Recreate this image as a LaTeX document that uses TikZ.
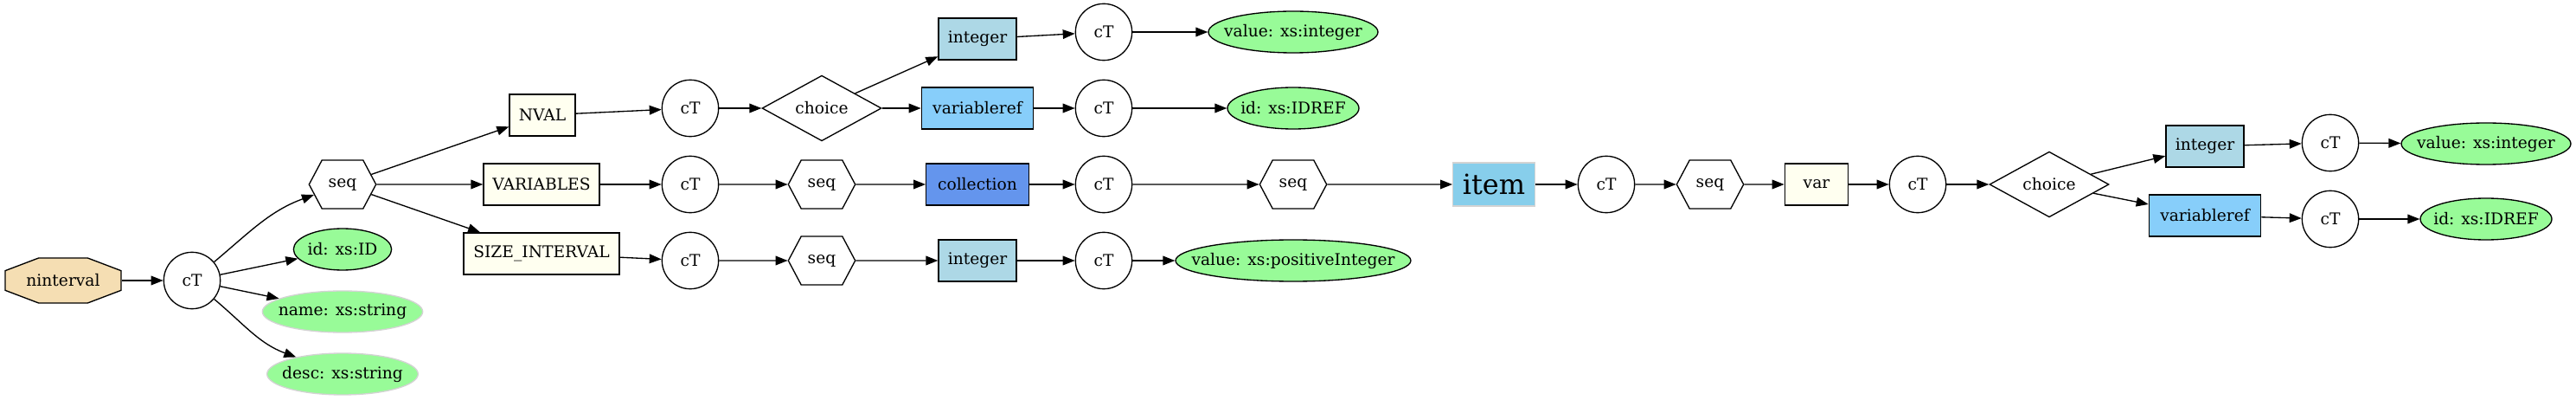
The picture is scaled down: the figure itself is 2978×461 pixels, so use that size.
\documentclass[tikz,border=0pt]{standalone}
\usepackage{fontspec}
\setmainfont{DejaVu Serif}
\usepackage{tikz}
\usetikzlibrary{arrows.meta, shapes.geometric, shapes.symbols}

\definecolor{wheat}{HTML}{F5DEB3}
\definecolor{ivory}{HTML}{FFFFF0}
\definecolor{lightblue}{HTML}{ADD8E6}
\definecolor{lightskyblue}{HTML}{87CEFA}
\definecolor{cornflowerblue}{HTML}{6495ED}
\definecolor{skyblue}{HTML}{87CEEB}
\definecolor{palegreen}{HTML}{98FB98}
\definecolor{lightgray}{HTML}{D3D3D3}

% text that does not widen its node
\newcommand{\zerowd}[1]{\makebox[0pt]{#1}}

\tikzset{
    every node/.style={font=\fontsize{14}{16}\selectfont, inner sep=0pt},
    edge/.style={-{Triangle[length=10.5pt, width=8pt]}},
    % octagon drawn inside a plain rectangle node
    rootnode/.style={rectangle, fill=white, minimum width=101.5pt, minimum height=40pt,
        path picture={
            \draw[fill=wheat, line width=1pt]
                ([xshift=29.5pt, yshift=-0.5pt]path picture bounding box.north west)
             -- ([xshift=-29.5pt, yshift=-0.5pt]path picture bounding box.north east)
             -- ([xshift=-0.5pt, yshift=-11.5pt]path picture bounding box.north east)
             -- ([xshift=-0.5pt, yshift=11.5pt]path picture bounding box.south east)
             -- ([xshift=-29.5pt, yshift=0.5pt]path picture bounding box.south east)
             -- ([xshift=29.5pt, yshift=0.5pt]path picture bounding box.south west)
             -- ([xshift=0.5pt, yshift=11.5pt]path picture bounding box.south west)
             -- ([xshift=0.5pt, yshift=-11.5pt]path picture bounding box.north west)
             -- cycle;
        }},
    ctnode/.style={circle, draw, fill=white, minimum size=49pt},
    seqnode/.style={signal, signal to=west and east, signal pointer angle=124, draw, fill=white, minimum width=58pt, minimum height=42pt},
    choicenode/.style={diamond, draw, fill=white, minimum width=103.5pt, minimum height=49.5pt},
    elembox/.style={rectangle, draw, minimum height=36pt},
    attr/.style={ellipse, draw, fill=palegreen, minimum height=36pt},
    optattr/.style={attr, draw=lightgray},
}

\begin{document}
\begin{tikzpicture}[x=0.75pt, y=0.75pt, line width=1pt]
    \useasboundingbox (0,0) rectangle (2978,461);

    % root and its attributes
    \node[rootnode] (ninterval) at (73,137) {ninterval};
    \node[ctnode] (ct) at (222,137) {cT};
    \node[seqnode] (seq) at (396,248) {seq};
    \node[attr, minimum width=85pt] (id) at (396,173) {\zerowd{id: xs:ID}};
    \node[optattr, minimum width=139pt] (name) at (396,101) {\zerowd{name: xs:string}};
    \node[optattr, minimum width=131pt] (desc) at (396,29) {\zerowd{desc: xs:string}};

    % children of the sequence
    \node[elembox, fill=ivory, minimum width=57pt] (nval) at (627,328) {NVAL};
    \node[elembox, fill=ivory, minimum width=100.5pt] (variables) at (626,248) {VARIABLES};
    \node[elembox, fill=ivory, minimum width=135pt] (sizeinterval) at (626,168) {SIZE\_INTERVAL};

    \node[ctnode] (nvalct) at (798,336) {cT};
    \node[ctnode] (variablesct) at (798,248) {cT};
    \node[ctnode] (sizect) at (798,160) {cT};

    \node[choicenode] (nvalchoice) at (950,336) {choice};
    \node[seqnode] (variablesseq) at (950,248) {seq};
    \node[seqnode] (sizeseq) at (950,160) {seq};

    \node[elembox, fill=lightblue, minimum width=67.5pt] (nvalint) at (1130,416) {integer};
    \node[elembox, fill=lightskyblue, minimum width=97pt] (nvalref) at (1130,336) {variableref};
    \node[elembox, fill=cornflowerblue, minimum width=89pt] (collection) at (1130,248) {collection};
    \node[elembox, fill=lightblue, minimum width=67.5pt] (sizeint) at (1130,160) {integer};

    \node[ctnode] (nvalintct) at (1276,424) {cT};
    \node[ctnode] (nvalrefct) at (1276,336) {cT};
    \node[ctnode] (collectionct) at (1276,248) {cT};
    \node[ctnode] (sizeintct) at (1276,160) {cT};

    \node[attr, minimum width=147pt] (nvalvalue) at (1495,424) {\zerowd{value: xs:integer}};
    \node[attr, minimum width=114pt] (nvalid) at (1495,336) {\zerowd{id: xs:IDREF}};
    \node[seqnode] (collectionseq) at (1495,248) {seq};
    \node[attr, minimum width=204pt] (sizevalue) at (1495,160) {\zerowd{value: xs:positiveInteger}};

    % item branch
    \node[elembox, fill=skyblue, draw=lightgray, minimum width=71pt, minimum height=37.5pt, font=\fontsize{24}{28}\selectfont] (item) at (1727,248) {item};
    \node[ctnode] (itemct) at (1857,248) {cT};
    \node[seqnode] (itemseq) at (1977,248) {seq};
    \node[elembox, fill=ivory, minimum width=55pt] (var) at (2100,248) {var};
    \node[ctnode] (varct) at (2217,248) {cT};
    \node[choicenode] (varchoice) at (2369,248) {choice};
    \node[elembox, fill=lightblue, minimum width=67.5pt] (varint) at (2549,292) {integer};
    \node[elembox, fill=lightskyblue, minimum width=97pt] (varref) at (2549,212) {variableref};
    \node[ctnode] (varintct) at (2694,296) {cT};
    \node[ctnode] (varrefct) at (2694,208) {cT};
    \node[attr, minimum width=147pt] (varvalue) at (2874,295) {\zerowd{value: xs:integer}};
    \node[attr, minimum width=114pt] (varid) at (2874,208) {\zerowd{id: xs:IDREF}};

    % edges
    \draw[edge] (ninterval) -- (ct);
    \draw[edge] (ct) to[out=40, in=200] (seq);
    \draw[edge] (ct) -- (id);
    \draw[edge] (ct) -- (name);
    \draw[edge] (ct) to[out=-40, in=160] (desc);
    \draw[edge] (seq) -- (nval);
    \draw[edge] (seq) -- (variables);
    \draw[edge] (seq) -- (sizeinterval);

    \draw[edge] (nval) -- (nvalct);
    \draw[edge] (nvalct) -- (nvalchoice);
    \draw[edge] (nvalchoice) -- (nvalint);
    \draw[edge] (nvalchoice) -- (nvalref);
    \draw[edge] (nvalint) -- (nvalintct);
    \draw[edge] (nvalref) -- (nvalrefct);
    \draw[edge] (nvalintct) -- (nvalvalue);
    \draw[edge] (nvalrefct) -- (nvalid);

    \draw[edge] (variables) -- (variablesct);
    \draw[edge] (variablesct) -- (variablesseq);
    \draw[edge] (variablesseq) -- (collection);
    \draw[edge] (collection) -- (collectionct);
    \draw[edge] (collectionct) -- (collectionseq);
    \draw[edge] (collectionseq) -- (item);

    \draw[edge] (sizeinterval) -- (sizect);
    \draw[edge] (sizect) -- (sizeseq);
    \draw[edge] (sizeseq) -- (sizeint);
    \draw[edge] (sizeint) -- (sizeintct);
    \draw[edge] (sizeintct) -- (sizevalue);

    \draw[edge] (item) -- (itemct);
    \draw[edge] (itemct) -- (itemseq);
    \draw[edge] (itemseq) -- (var);
    \draw[edge] (var) -- (varct);
    \draw[edge] (varct) -- (varchoice);
    \draw[edge] (varchoice) -- (varint);
    \draw[edge] (varchoice) -- (varref);
    \draw[edge] (varint) -- (varintct);
    \draw[edge] (varref) -- (varrefct);
    \draw[edge] (varintct) -- (varvalue);
    \draw[edge] (varrefct) -- (varid);
\end{tikzpicture}
\end{document}
